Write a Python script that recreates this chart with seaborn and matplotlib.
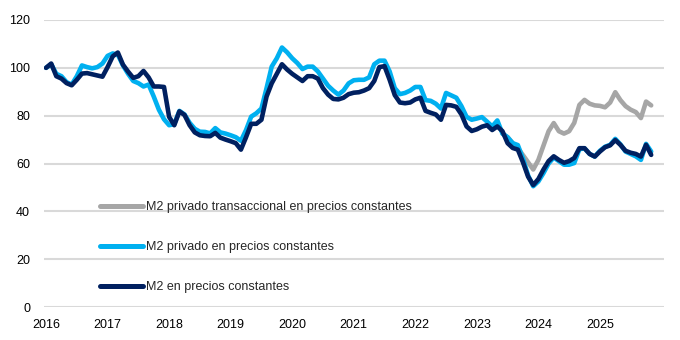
import numpy as np
import pandas as pd
import matplotlib
matplotlib.use("Agg")
import matplotlib.pyplot as plt
import seaborn as sns

# ---- data (monthly index, Jan 2016 = 0) ----
years = ["2016", "2017", "2018", "2019", "2020", "2021", "2022", "2023", "2024", "2025"]

m2_total = [100, 101.8, 96.5, 95.5, 93.6, 92.7, 95, 97.6, 97.8, 97.3, 96.8, 96.3,
            100.3, 104.8, 106.4, 101.3, 98.4, 95.8, 96.5, 98.7, 96, 92.2, 92.2, 92,
            79.5, 76, 81.8, 80.3, 76, 73, 71.8, 71.5, 71.4, 72.8, 70.8, 70,
            69.3, 68.5, 65.8, 71, 76.6, 76.6, 78.3, 88, 93.5, 97.5, 101.5, 99.3,
            97.5, 96, 94.5, 96.5, 96.5, 95.5, 91.5, 88.8, 87, 86.8, 87.5, 89,
            89.6, 89.8, 90.5, 91.5, 94.5, 100.3, 100.7, 95, 88.6, 85.5, 85.2, 85.5,
            86.8, 87.5, 82, 81.2, 80.5, 78.3, 84.5, 84.3, 83.7, 80.5, 75.5, 73.6,
            74.3, 75.4, 76, 74, 75.5, 73.5, 68.5, 66.5, 65.8, 60.5, 54.5, 51,
            53.5, 57.5, 61, 63, 61.5, 60.3, 61, 62.3, 66.4, 66.4, 64, 62.9,
            65, 66.8, 67.6, 69.8, 67.8, 65.3, 64.5, 64, 62.9, 67.8, 63.6]

m2_privado = [100, 101.5, 97.5, 96.5, 94, 93, 96.5, 101, 100.3, 99.8, 100.3, 101.8,
              105, 106, 105.5, 101, 97.5, 94.5, 93.6, 92.2, 93, 88, 82.5, 78.5,
              76, 76.5, 82, 80.5, 77, 74.5, 73.3, 73.2, 72.6, 74.8, 73, 72.5,
              71.8, 71, 69.5, 74, 79.6, 81, 83, 91.5, 100.5, 104, 108.5, 106.5,
              104, 102, 99.5, 100.5, 100.5, 98.5, 95.5, 92.5, 90.5, 88.8, 90.5, 93.5,
              94.8, 95, 95, 96, 101.5, 103, 103, 98.5, 91.5, 89, 89.5, 90.5,
              92, 92, 86.5, 86.2, 85, 83, 89.5, 88.5, 87.5, 84, 79.5, 78.3,
              78.8, 79.4, 77.5, 75.5, 78, 72.5, 71, 68.5, 67.7, 62, 55, 50.5,
              52.5, 56, 60, 62.5, 61, 59.5, 59.5, 60.2, 66, 66.3, 64, 62.9,
              65.3, 67, 67.8, 70.3, 68, 65, 64, 63, 61.5, 68.2, 65]

# transactional series is hidden under the others until late 2023
trans_start = 89
m2_transaccional = [72.5, 71, 68.5, 66.5, 63.5, 60.5, 57.5, 61.5, 67.5, 73.5, 76.9,
                    73.5, 72.5, 73.5, 77, 84.5, 86.6, 85, 84.3, 84.1, 83.5, 85.5,
                    89.8, 86.5, 84, 82.5, 81.5, 79, 85.9, 84.3]

lab_trans = "M2 privado transaccional en precios constantes"
lab_priv = "M2 privado en precios constantes"
lab_tot = "M2 en precios constantes"

colors = {lab_trans: "#A6A6A6", lab_priv: "#00B0F0", lab_tot: "#002060"}

df = pd.concat([
    pd.DataFrame({"x": np.arange(trans_start, trans_start + len(m2_transaccional)),
                  "v": m2_transaccional, "s": lab_trans}),
    pd.DataFrame({"x": np.arange(len(m2_privado)), "v": m2_privado, "s": lab_priv}),
    pd.DataFrame({"x": np.arange(len(m2_total)), "v": m2_total, "s": lab_tot}),
], ignore_index=True)

sns.set_style("white")
plt.rcParams["font.family"] = ["Liberation Sans Narrow", "Liberation Sans", "DejaVu Sans"]

fig = plt.figure(figsize=(6.8, 3.4), dpi=100)
ax = fig.add_axes([44 / 680, 1 - 307 / 340, (664 - 44) / 680, (307 - 20) / 340])

sns.lineplot(data=df, x="x", y="v", hue="s", palette=colors,
             hue_order=[lab_trans, lab_priv, lab_tot], linewidth=3.3,
             ax=ax, legend=False, sort=True)

ax.set_xlim(-0.4, 120.5)
ax.set_ylim(0, 120)
ax.set_yticks(np.arange(0, 121, 20))
ax.set_xticks(np.arange(0, 12 * len(years), 12))
ax.set_xticklabels(years)
ax.set_xlabel("")
ax.set_ylabel("")
ax.grid(axis="y", color="#D9D9D9", linewidth=1.5)
ax.grid(axis="x", visible=False)
ax.set_axisbelow(True)
for sp in ax.spines.values():
    sp.set_visible(False)
ax.tick_params(axis="both", length=0, labelsize=9, colors="#000000")
ax.tick_params(axis="y", pad=10)
ax.tick_params(axis="x", pad=9)

handles = [plt.Line2D([], [], color=colors[l], linewidth=3.6, solid_capstyle="round")
           for l in [lab_trans, lab_priv, lab_tot]]
fig.legend(handles, [lab_trans, lab_priv, lab_tot], loc="upper left",
           bbox_to_anchor=(100 / 680, 1 - 201 / 340), bbox_transform=fig.transFigure,
           frameon=False, fontsize=9, handlelength=3.4, handletextpad=0.25,
           labelspacing=2.25, borderpad=0, borderaxespad=0)

fig.savefig("out.png", dpi=100)
